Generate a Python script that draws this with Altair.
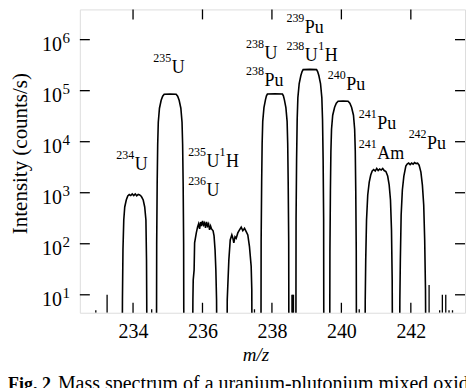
import altair as alt
import pandas as pd

FONT = "Liberation Serif"

# ---- peak traces (m/z, intensity in counts/s) ----
p234_mz = [233.690, 233.695, 233.710, 233.733, 233.761, 233.805, 233.848, 233.891, 233.934, 233.977, 234.020,
           234.063, 234.106, 234.149, 234.193, 234.241, 234.293, 234.336, 234.371, 234.388, 234.394, 234.399]
p234_int = [1, 8, 76, 293, 526, 721, 863, 923, 880, 944, 883, 950, 870, 923, 903, 843, 721, 526, 293, 48, 8, 1]

p235_mz = [234.675, 234.681, 234.695, 234.710, 234.727, 234.761, 234.810, 234.853, 234.897, 235.069,
           235.241, 235.285, 235.328, 235.377, 235.411, 235.428, 235.443, 235.457, 235.463]
p235_int = [1, 99, 1480, 8950, 24100, 45300, 65000, 77800, 85100, 86000,
            85100, 77800, 65000, 45300, 24100, 8950, 1480, 99, 1]

p236_mz = [235.716, 235.724, 235.733, 235.759, 235.773, 235.822, 235.859, 235.888, 235.917, 235.945, 235.974,
           236.003, 236.032, 236.060, 236.089, 236.118, 236.147, 236.175, 236.204, 236.233, 236.261, 236.305,
           236.333, 236.362, 236.385, 236.405, 236.414]
p236_int = [1, 8, 19.6, 30.7, 104, 163, 214, 245, 195, 267, 223, 280, 234, 256, 204, 267, 223, 245, 187, 223,
            195, 179, 143, 76, 30.7, 8, 1]

p237_mz = [236.707, 236.713, 236.759, 236.799, 236.845, 236.874, 236.902, 236.937, 236.971, 237.017, 237.066,
           237.115, 237.161, 237.210, 237.259, 237.305, 237.353, 237.402, 237.420, 237.425]
p237_int = [1, 8, 48, 119, 149, 130, 104, 137, 128, 163, 187, 211, 181, 201, 173, 149, 88, 36, 12.5, 1]

p238_mz = [237.684, 237.689, 237.704, 237.718, 237.735, 237.770, 237.813, 237.842, 237.870, 238.086,
           238.302, 238.330, 238.359, 238.402, 238.437, 238.454, 238.468, 238.483, 238.488]
p238_int = [1, 110, 1600, 9300, 25000, 46500, 66000, 79000, 86000, 86500,
            86000, 79000, 66000, 46500, 25000, 9300, 1600, 110, 1]

p239_mz = [238.690, 238.695, 238.710, 238.727, 238.747, 238.785, 238.833, 238.868, 238.899, 239.092,
           239.285, 239.316, 239.351, 239.399, 239.437, 239.457, 239.474, 239.489, 239.494]
p239_int = [1, 302, 4500, 27200, 73300, 138000, 198000, 237000, 259000, 261000,
            259000, 237000, 198000, 138000, 73300, 27200, 4500, 302, 1]

p240_mz = [239.664, 239.670, 239.684, 239.698, 239.716, 239.750, 239.805, 239.854, 239.905, 240.049,
           240.193, 240.244, 240.293, 240.348, 240.382, 240.400, 240.414, 240.428, 240.434]
p240_int = [1, 72, 1080, 6530, 17600, 33000, 47400, 56800, 62100, 62500,
            62100, 56800, 47400, 33000, 17600, 6530, 1080, 72, 1]

p241_mz = [240.681, 240.687, 240.701, 240.724, 240.759, 240.802, 240.845, 240.888, 240.931, 240.974, 241.017,
           241.060, 241.103, 241.147, 241.190, 241.233, 241.282, 241.333, 241.376, 241.414, 241.443, 241.463,
           241.471]
p241_int = [1, 8, 48, 293, 902, 1620, 2220, 2660, 2850, 2660, 2980, 2720, 2910, 2780, 2980, 2720, 2600, 2120,
            1420, 721, 187, 19.6, 1]

p242_mz = [241.678, 241.684, 241.698, 241.721, 241.756, 241.799, 241.856, 241.894, 241.937, 241.980, 242.023,
           242.066, 242.109, 242.152, 242.195, 242.238, 242.290, 242.333, 242.371, 242.399, 242.422, 242.431]
p242_int = [1, 8, 48, 366, 1130, 2120, 3320, 3630, 3800, 3550, 3800, 3630, 3890, 3720, 3800, 3470, 2530, 1410,
            573, 119, 12.5, 1]

# noise spikes between peaks
spike_mz = [232.928, 233.253, 234.537, 237.497, 238.575, 238.598, 238.621, 240.514, 242.526, 242.830,
            242.908, 243.006, 243.100, 243.200]
spike_int = [5.0, 10, 5.2, 5.2, 10, 10, 10, 5.2, 15.5, 5.0, 10, 10, 5.0, 5.0]

# annotations: anchor (m/z, intensity), superscript, main text
lab_mz = [234.049, 235.112, 236.118, 236.678, 236.118, 237.784, 237.784, 238.948, 238.948, 239.523,
          240.141, 241.032, 241.032, 242.468]
lab_int = [2780, 219000, 3180, 3180, 863, 412000, 122000, 1330000, 377000, 377000,
           102000, 17600, 4560, 7160]
lab_sup = ["234", "235", "235", "1", "236", "238", "238", "239", "238", "1", "240", "241", "241", "242"]
lab_main = ["U", "U", "U", "H", "U", "U", "Pu", "Pu", "U", "H", "Pu", "Pu", "Am", "Pu"]

x_ticks = [234, 236, 238, 240, 242]
y_decades = [1e1, 1e2, 1e3, 1e4, 1e5, 1e6]
y_exp = ["1", "2", "3", "4", "5", "6"]

caption_fig = "Fig. 2"
caption_rest = "Mass spectrum of a uranium-plutonium mixed oxide"

# ---- build tables ----
peaks = {
    "234": (p234_mz, p234_int), "235": (p235_mz, p235_int), "236": (p236_mz, p236_int),
    "237": (p237_mz, p237_int), "238": (p238_mz, p238_int), "239": (p239_mz, p239_int),
    "240": (p240_mz, p240_int), "241": (p241_mz, p241_int), "242": (p242_mz, p242_int),
}
rows = []
for name, (mzs, ints) in peaks.items():
    for i, (m, v) in enumerate(zip(mzs, ints)):
        rows.append({"peak": name, "order": i, "mz": m, "intensity": v})
df = pd.DataFrame(rows)
spikes = pd.DataFrame({"mz": spike_mz, "intensity": spike_int})
labels = pd.DataFrame({"mz": lab_mz, "intensity": lab_int, "sup": lab_sup, "main": lab_main})
xt = pd.DataFrame({"mz": x_ticks})
yt = pd.DataFrame({"intensity": y_decades, "exp": y_exp})
cap = pd.DataFrame({"fig": [caption_fig], "rest": [caption_rest]})

W, H = 386, 304
xscale = alt.Scale(domain=[232.468, 243.560], nice=False, zero=False)
yscale = alt.Scale(type="log", domain=[4.446, 3.913e6], nice=False)

X = alt.X("mz:Q", scale=xscale, axis=alt.Axis(
    values=x_ticks, format="d", ticks=False, domain=False, grid=False,
    labelFont=FONT, labelFontSize=20, labelColor="black", labelBaseline="alphabetic", labelPadding=25,
    title="m/z", titleFont=FONT, titleFontSize=19, titleFontStyle="italic", titleFontWeight="normal",
    titleColor="black", titleX=176, titleY=48, titleBaseline="alphabetic", titleAlign="center"))
Y = alt.Y("intensity:Q", scale=yscale, axis=alt.Axis(
    labels=False, ticks=False, domain=False, grid=False,
    title="Intensity (counts/s)", titleFont=FONT, titleFontSize=21, titleFontWeight="normal",
    titleColor="black", titleX=-53, titleY=144, titleAngle=270, titleAlign="center",
    titleBaseline="alphabetic"))

lines = alt.Chart(df).mark_line(clip=True, color="black", strokeWidth=1.6).encode(
    x=X, y=Y, detail="peak:N", order="order:Q")

spk = alt.Chart(spikes).mark_rule(clip=True, color="black", strokeWidth=1.3).encode(
    x=alt.X("mz:Q", scale=xscale), y=alt.Y("intensity:Q", scale=yscale), y2=alt.value(H))

tick_top = alt.Chart(xt).mark_rule(color="black", strokeWidth=1.3).encode(
    x=alt.X("mz:Q", scale=xscale), y=alt.value(0), y2=alt.value(10))
tick_bot = alt.Chart(xt).mark_rule(color="black", strokeWidth=1.3).encode(
    x=alt.X("mz:Q", scale=xscale), y=alt.value(H - 10), y2=alt.value(H))
tick_l = alt.Chart(yt).mark_rule(color="black", strokeWidth=1.3).encode(
    y=alt.Y("intensity:Q", scale=yscale), x=alt.value(0), x2=alt.value(10))
tick_r = alt.Chart(yt).mark_rule(color="black", strokeWidth=1.3).encode(
    y=alt.Y("intensity:Q", scale=yscale), x=alt.value(W - 10), x2=alt.value(W))

ylab10 = alt.Chart(yt).mark_text(font=FONT, fontSize=20, align="right", baseline="alphabetic",
                                 dy=11.7, color="black", text="10").encode(
    y=alt.Y("intensity:Q", scale=yscale), x=alt.value(-18))
ylabexp = alt.Chart(yt).mark_text(font=FONT, fontSize=15, align="left", baseline="alphabetic",
                                  dy=3.7, color="black").encode(
    y=alt.Y("intensity:Q", scale=yscale), x=alt.value(-17.5), text="exp:N")

lab_main_t = alt.Chart(labels).mark_text(font=FONT, fontSize=18, align="left", baseline="alphabetic",
                                         color="black").encode(
    x=alt.X("mz:Q", scale=xscale), y=alt.Y("intensity:Q", scale=yscale), text="main:N")
lab_sup_t = alt.Chart(labels).mark_text(font=FONT, fontSize=12, align="right", baseline="alphabetic",
                                        dx=-0.5, dy=-11, color="black").encode(
    x=alt.X("mz:Q", scale=xscale), y=alt.Y("intensity:Q", scale=yscale), text="sup:N")

cap_fig = alt.Chart(cap).mark_text(font=FONT, fontSize=18, fontWeight="bold", align="left",
                                   baseline="alphabetic", color="black").encode(
    x=alt.value(-72), y=alt.value(381), text="fig:N")
cap_rest = alt.Chart(cap).mark_text(font=FONT, fontSize=20, align="left",
                                    baseline="alphabetic", color="black").encode(
    x=alt.value(-22), y=alt.value(381), text="rest:N")

chart = alt.layer(lines, spk, tick_top, tick_bot, tick_l, tick_r, ylab10, ylabexp,
                  lab_main_t, lab_sup_t, cap_fig, cap_rest).properties(
    width=W, height=H,
    padding={"left": 72, "top": 1, "right": 1, "bottom": 75},
    autosize=alt.AutoSizeParams(type="none"),
).configure_view(stroke="black", strokeWidth=1.5).configure(background="white")

chart.save("out.html", embed_options={"renderer": "svg", "actions": False})
